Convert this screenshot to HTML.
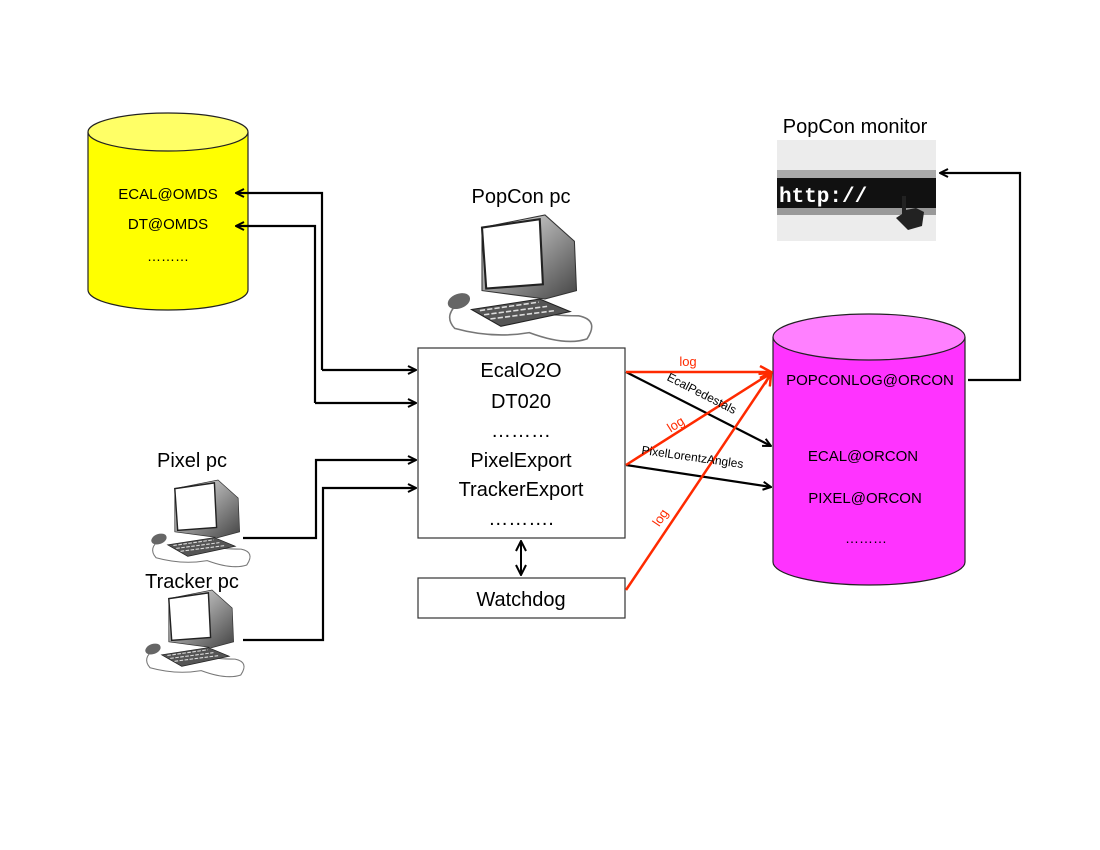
<!DOCTYPE html>
<html><head><meta charset="utf-8"><style>
html,body{margin:0;padding:0;background:#fff;}
svg{display:block;font-family:"Liberation Sans",sans-serif;}
</style></head><body>
<svg width="1100" height="850" viewBox="0 0 1100 850" xmlns="http://www.w3.org/2000/svg">
<defs>
<marker id="ab" markerWidth="10" markerHeight="10" refX="9" refY="5" orient="auto" markerUnits="userSpaceOnUse"><path d="M1,1 L9,5 L1,9" fill="none" stroke="#000" stroke-width="2"/></marker>
<marker id="ar" markerWidth="14" markerHeight="14" refX="12" refY="7" orient="auto" markerUnits="userSpaceOnUse"><path d="M1,1 L12,7 L1,13" fill="none" stroke="#ff2a00" stroke-width="2.5"/></marker>
<marker id="as" markerWidth="12" markerHeight="12" refX="11" refY="6" orient="auto-start-reverse" markerUnits="userSpaceOnUse"><path d="M1,1 L11,6 L1,11" fill="none" stroke="#000" stroke-width="2"/></marker>
<linearGradient id="mg" x1="0" y1="0" x2="1" y2="1"><stop offset="0" stop-color="#eee"/><stop offset="1" stop-color="#444"/></linearGradient>
<g id="pc">
<path d="M20,82 Q2,95 14,108 Q50,118 85,112 Q120,125 140,118 Q152,100 132,96 Q105,96 92,92" fill="none" stroke="#777" stroke-width="1.5"/>
<ellipse cx="18" cy="82" rx="11" ry="7" fill="#666" transform="rotate(-20 18 82)"/>
<path d="M40,12 L100,0 L128,25 L130,72 L100,80 L40,72 Z" fill="url(#mg)" stroke="#333"/>
<path d="M40,12 L95,4 L98,66 L44,70 Z" fill="#fff" stroke="#222" stroke-width="2"/>
<path d="M30,90 L95,80 L124,92 L58,106 Z" fill="#555" stroke="#222"/>
<path d="M38,91 L94,83 M42,95 L102,87 M48,99 L110,91" stroke="#ddd" stroke-width="1.5" stroke-dasharray="5 2"/>
</g>
</defs>

<!-- yellow cylinder -->
<path d="M88,132 L88,290 A80,20 0 0 0 248,290 L248,132" fill="#ffff00" stroke="#222" stroke-width="1.2"/>
<ellipse cx="168" cy="132" rx="80" ry="19" fill="#ffff66" stroke="#222" stroke-width="1.2"/>
<text x="168" y="199" font-size="15" text-anchor="middle">ECAL@OMDS</text>
<text x="168" y="229" font-size="15" text-anchor="middle">DT@OMDS</text>
<text x="168" y="261" font-size="14" text-anchor="middle">………</text>

<!-- magenta cylinder -->
<path d="M773,337 L773,562 A96,23 0 0 0 965,562 L965,337" fill="#ff33ff" stroke="#222" stroke-width="1.2"/>
<ellipse cx="869" cy="337" rx="96" ry="23" fill="#ff80ff" stroke="#222" stroke-width="1.2"/>
<text x="870" y="385" font-size="15" text-anchor="middle">POPCONLOG@ORCON</text>
<text x="863" y="461" font-size="15" text-anchor="middle">ECAL@ORCON</text>
<text x="865" y="503" font-size="15" text-anchor="middle">PIXEL@ORCON</text>
<text x="866" y="543" font-size="14" text-anchor="middle">………</text>

<!-- main box -->
<rect x="418" y="348" width="207" height="190" fill="#fff" stroke="#333" stroke-width="1.2"/>
<g font-size="20" text-anchor="middle">
<text x="521" y="377">EcalO2O</text>
<text x="521" y="408">DT020</text>
<text x="521" y="437">………</text>
<text x="521" y="467">PixelExport</text>
<text x="521" y="496">TrackerExport</text>
<text x="521" y="525">……….</text>
</g>
<rect x="418" y="578" width="207" height="40" fill="#fff" stroke="#333" stroke-width="1.2"/>
<text x="521" y="606" font-size="20" text-anchor="middle">Watchdog</text>
<line x1="521" y1="541" x2="521" y2="575" stroke="#000" stroke-width="2" marker-start="url(#as)" marker-end="url(#as)"/>

<g fill="none" stroke="#000" stroke-width="2.2">
<path d="M322,370 L322,193 L236,193" marker-end="url(#ab)"/>
<path d="M322,370 L416,370" marker-end="url(#ab)"/>
<path d="M315,403 L315,226 L236,226" marker-end="url(#ab)"/>
<path d="M315,403 L416,403" marker-end="url(#ab)"/>
<path d="M243,538 L316,538 L316,460 L416,460" marker-end="url(#ab)"/>
<path d="M243,640 L323,640 L323,488 L416,488" marker-end="url(#ab)"/>
<path d="M968,380 L1020,380 L1020,173 L940,173" marker-end="url(#ab)"/>
<path d="M626,372 L771,446" marker-end="url(#ab)"/>
<path d="M626,465 L771,487" marker-end="url(#ab)"/>
</g>
<g fill="none" stroke="#ff2a00" stroke-width="2.5">
<path d="M626,372 L771,372" marker-end="url(#ar)"/>
<path d="M626,465 L771,373" marker-end="url(#ar)"/>
<path d="M626,590 L771,374" marker-end="url(#ar)"/>
</g>
<text x="688" y="366" font-size="13" fill="#ff2a00" text-anchor="middle">log</text>
<text x="678" y="428" font-size="13" fill="#ff2a00" text-anchor="middle" transform="rotate(-32 678 428)">log</text>
<text x="664" y="520" font-size="13" fill="#ff2a00" text-anchor="middle" transform="rotate(-56 664 520)">log</text>
<text x="700" y="397" font-size="12" text-anchor="middle" transform="rotate(27 700 397)">EcalPedestals</text>
<text x="692" y="461" font-size="12" text-anchor="middle" transform="rotate(8 692 461)">PixelLorentzAngles</text>

<text x="521" y="203" font-size="20" text-anchor="middle">PopCon pc</text>
<use href="#pc" transform="translate(440,215) scale(1.05)"/>
<text x="192" y="467" font-size="20" text-anchor="middle">Pixel pc</text>
<use href="#pc" transform="translate(146,480) scale(0.72)"/>
<text x="192" y="588" font-size="20" text-anchor="middle">Tracker pc</text>
<use href="#pc" transform="translate(140,590) scale(0.72)"/>

<text x="855" y="133" font-size="20" text-anchor="middle">PopCon  monitor</text>
<rect x="777" y="140" width="159" height="101" fill="#ececec"/>
<rect x="777" y="170" width="159" height="8" fill="#aaa"/>
<rect x="777" y="178" width="159" height="30" fill="#111"/>
<rect x="777" y="208" width="159" height="7" fill="#999"/>
<text x="779" y="202" font-family="Liberation Mono,monospace" font-weight="bold" font-size="21" fill="#fff">http://</text>
<path d="M902,196 L906,196 L906,210 L916,208 L924,212 L922,226 L908,230 L896,218 L902,214 Z" fill="#222"/>
</svg>
</body></html>
